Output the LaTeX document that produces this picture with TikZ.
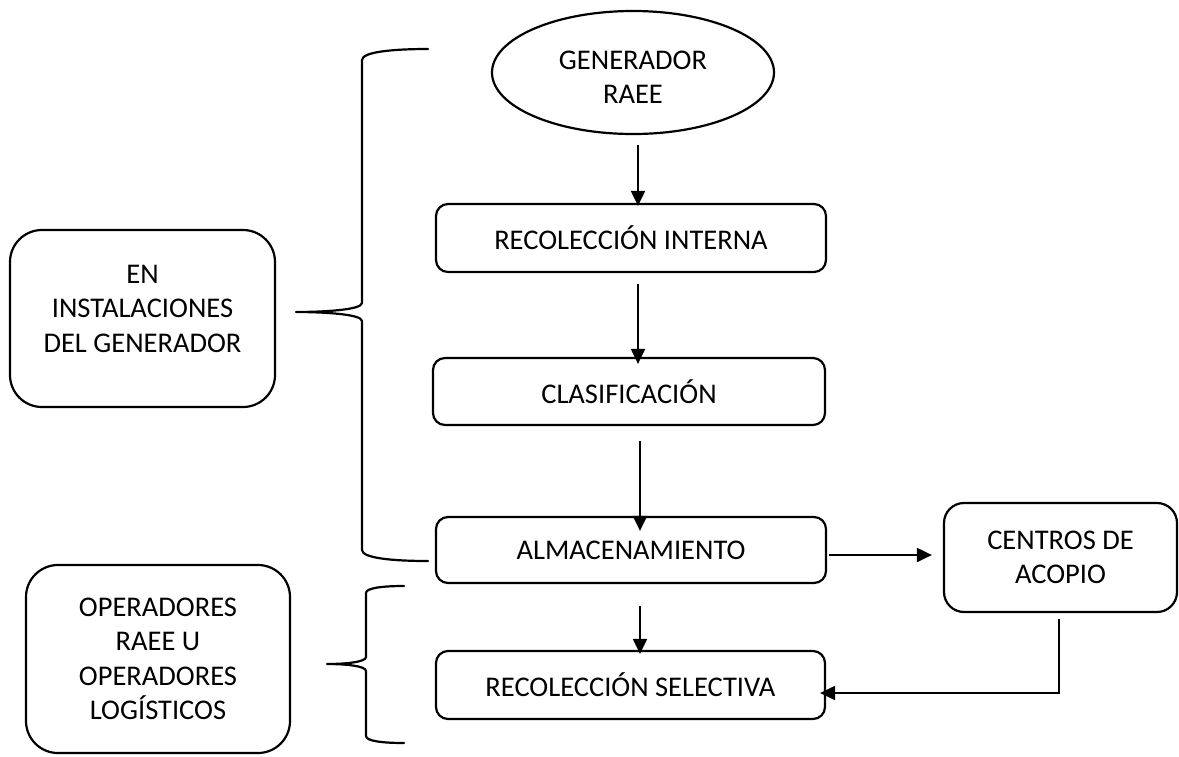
\documentclass[tikz,border=0pt]{standalone}
\usepackage{fontspec}
\setmainfont{Carlito}
\usetikzlibrary{arrows.meta,shapes.geometric}
\tikzset{
  base/.style={draw=black, line width=2.2pt, align=center, inner sep=0pt,
    font=\fontsize{28.5}{34.5}\selectfont},
  flowbox/.style={base, rectangle, rounded corners=12pt},
  sidebox/.style={base, rectangle, rounded corners=32pt},
  arr/.style={line width=2pt, -{Triangle[length=15pt,width=14pt]}},
  bracepath/.style={line width=2.2pt, line cap=round, line join=round}
}
\begin{document}
\begin{tikzpicture}[x=1pt,y=-1pt]
\useasboundingbox (0,0) rectangle (1179,756);

\node[base, ellipse, minimum width=282pt, minimum height=123pt, text height=62pt, text depth=0pt] (gen) at (633,72.5) {GENERADOR\\RAEE};
\node[flowbox, minimum width=390pt, minimum height=68pt] (ri) at (631,238) {RECOLECCIÓN INTERNA};
\node[flowbox, minimum width=392pt, minimum height=67pt] (cl) at (629,391.5) {CLASIFICACIÓN};
\node[flowbox, minimum width=390pt, minimum height=66pt] (al) at (631,550) {ALMACENAMIENTO};
\node[flowbox, minimum width=389pt, minimum height=68pt] (rs) at (630.5,685) {RECOLECCIÓN SELECTIVA};
\node[base, rectangle, rounded corners=20pt, minimum width=233pt, minimum height=109pt] (ca) at (1060.5,557.5) {CENTROS DE\\ACOPIO};
\node[sidebox, minimum width=265pt, minimum height=177pt, text depth=20pt] (en) at (142.5,318.5) {EN\\INSTALACIONES\\DEL GENERADOR};
\node[sidebox, minimum width=264pt, minimum height=188pt] (op) at (158,659) {OPERADORES\\RAEE U\\OPERADORES\\LOGÍSTICOS};

% arrows
\draw[arr, shorten <=10pt, shorten >=-3pt] ([xshift=5pt]gen.south) -- ([xshift=7pt]ri.north);
\draw[arr, shorten <=11pt, shorten >=-7pt] ([xshift=7pt]ri.south) -- ([xshift=9pt]cl.north);
\draw[arr, shorten <=15pt, shorten >=-15pt] ([xshift=11pt]cl.south) -- ([xshift=9pt]al.north);
\draw[arr, shorten <=22pt, shorten >=-4pt] ([xshift=9pt]al.south) -- ([xshift=9.5pt]rs.north);
\draw[arr, shorten <=2pt, shorten >=11pt] ([yshift=-5pt]al.east) -- ([yshift=-5pt]al.east -| ca.west);
\draw[arr, shorten <=6pt, shorten >=-6pt] ([xshift=-1.5pt]ca.south) |- ([yshift=-8pt]rs.east);

% braces
\draw[bracepath] (428,49) .. controls (392,49) and (362,52) .. (362,60)
  -- (362,303) .. controls (362,310) and (322,312) .. (296,312)
  .. controls (322,312) and (362,314) .. (362,321)
  -- (362,550) .. controls (362,558) and (392,561) .. (428,561);
\draw[bracepath] (404,586) .. controls (382,586) and (366,588) .. (366,593)
  -- (366,657) .. controls (366,662) and (346,664) .. (327,664)
  .. controls (346,664) and (366,666) .. (366,671)
  -- (366,736) .. controls (366,741) and (382,743) .. (404,743);
\end{tikzpicture}
\end{document}
